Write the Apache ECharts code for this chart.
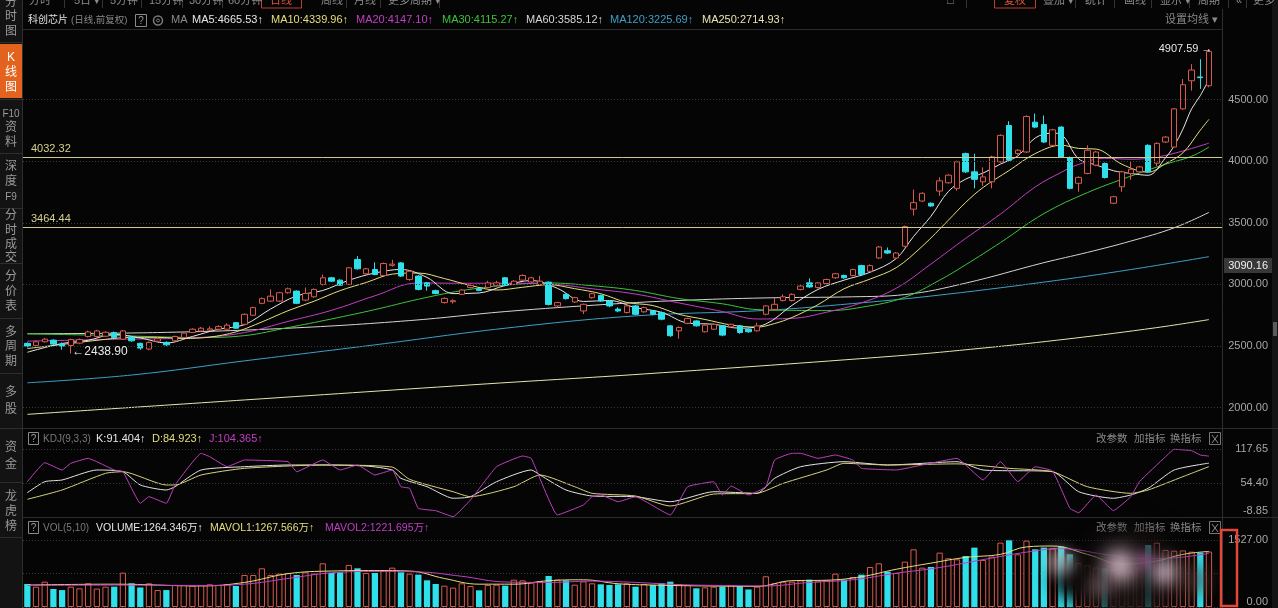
<!DOCTYPE html>
<html><head><meta charset="utf-8">
<script src="https://cdn.jsdelivr.net/npm/echarts@6/dist/echarts.min.js"></script>
<style>html,body{margin:0;padding:0;background:#050505;overflow:hidden}#c{width:1278px;height:608px}</style>
</head><body><div id="c"></div>
<script>
// ---------- DATA ----------
const openP = [2522,2505,2535,2548,2516,2505,2524,2578,2578,2580,
2610,2556,2572,2522,2476,2540,2530,2543,2570,2610,
2623,2630,2637,2637,2690,2677,2750,2847,2865,2865,
2933,2946,2873,2900,3000,3054,3035,3000,3202,3087,
3121,3073,3155,3175,3040,3068,3013,2950,2853,2860,
2920,2975,2965,2975,2990,3054,3000,3035,3020,3000,
3019,2826,2920,2858,2785,2893,2911,2866,2800,2772,
2826,2778,2785,2772,2664,2624,2685,2704,2616,2637,
2664,2656,2664,2637,2624,2758,2798,2870,2870,2960,
3013,2975,3008,3054,3073,3073,3153,3107,3215,3274,
3215,3310,3611,3677,3659,3758,3825,3780,4062,3914,
3833,3833,3995,4290,4062,4075,4317,4298,4129,4277,
4030,3821,3901,3968,3981,3659,3793,3900,3914,4129,
3984,4156,4115,4425,4653,4684,4613];
const closeP = [2500,2535,2556,2516,2500,2553,2553,2615,2623,2612,
2570,2623,2543,2484,2530,2560,2510,2578,2605,2637,
2645,2640,2658,2670,2645,2758,2812,2885,2905,2933,
2965,2847,2927,2960,3054,3027,2994,3135,3127,3127,
3081,3170,3165,3068,3107,2960,2987,2927,2887,2868,
2955,2992,2952,3013,3013,2992,3027,3073,3054,3027,
2838,2853,2885,2893,2839,2925,2866,2826,2785,2826,
2758,2812,2758,2718,2584,2651,2723,2664,2670,2677,
2589,2677,2610,2616,2664,2826,2839,2900,2920,2987,
2980,3013,3040,3087,3054,3121,3081,3153,3304,3255,
3255,3470,3664,3740,3637,3841,3887,3995,3914,3853,
3873,4035,4210,4008,4089,4363,4277,4156,4255,4035,
3780,3869,4089,4075,3868,3712,3914,3935,3954,3914,
4145,4196,4425,4621,4740,4678,4890];
const lowP = [2490,2498,2528,2508,2470,2438.9,2515,2570,2572,2575,
2562,2550,2535,2470,2465,2532,2500,2538,2565,2605,
2618,2622,2630,2630,2640,2670,2745,2840,2858,2858,
2925,2840,2865,2893,2992,3020,2988,2995,3120,3080,
3075,3068,3145,3060,3030,2952,2950,2920,2845,2845,
2915,2968,2945,2970,2985,2985,2995,3030,3012,2995,
2830,2815,2878,2850,2760,2885,2860,2815,2775,2765,
2750,2770,2750,2710,2575,2560,2678,2658,2610,2630,
2580,2650,2600,2608,2618,2750,2790,2862,2862,2952,
2972,2968,3000,3046,3046,3066,3073,3100,3208,3248,
3208,3302,3560,3670,3630,3720,3818,3760,3905,3780,
3800,3780,3988,4000,4050,4068,4268,4148,4122,4028,
3772,3752,3894,3960,3860,3652,3752,3850,3906,3906,
3960,4148,4108,4418,4573,4587,4600];
const highP = [2530,2545,2565,2555,2530,2560,2562,2625,2632,2620,
2618,2630,2580,2528,2538,2575,2538,2585,2612,2645,
2655,2660,2670,2685,2695,2765,2820,2895,2960,2940,
2975,2952,2975,2968,3080,3062,3042,3142,3230,3135,
3180,3178,3200,3182,3115,3075,3020,2958,2895,2880,
2962,3010,2972,3030,3030,3060,3035,3082,3062,3070,
3025,2860,2928,2900,2845,2932,2918,2872,2815,2835,
2832,2820,2792,2780,2670,2660,2730,2710,2678,2685,
2670,2682,2672,2642,2690,2832,2890,2920,2928,2995,
3050,3020,3048,3094,3080,3128,3160,3162,3312,3300,
3262,3478,3770,3748,3666,3870,3895,4005,4070,4060,
3950,4045,4218,4325,4098,4372,4387,4371,4263,4285,
4038,3878,4129,4085,3990,3720,3922,4000,3962,4137,
4153,4204,4432,4667,4788,4828,4907.59];
const volume = [524,463,577,410,386,463,426,540,420,463,
463,782,540,445,540,386,386,502,502,486,
502,517,502,524,478,730,730,882,730,760,
775,730,790,760,996,775,790,958,882,775,
775,836,897,790,760,737,608,524,486,441,
540,478,380,502,509,486,623,608,555,593,
707,623,608,509,585,540,517,502,517,540,
463,524,502,540,577,524,502,426,448,463,
463,502,478,400,463,700,540,577,577,608,
623,585,608,760,623,684,737,912,996,805,
775,1034,1315,897,912,1239,1110,1087,1163,1353,
1072,1148,1467,1520,1201,1513,1315,1353,1338,1376,
1200,1000,950,900,880,850,820,800,900,1413,
1466,1300,1283,1290,1260,1241,1264];
// moving-average lines: [candle index, value]
const ma5Pts = [[0,2450],[4,2521],[7,2547],[10,2595],[13,2566],[16,2525],[19,2578],[22,2637],[25,2674],[28,2801],[31,2907],[34,2951],[37,3034],[40,3093],[43,3122],[46,3057],[49,2926],[52,2931],[55,2992],[58,3032],[61,2969],[64,2862],[67,2870],[70,2812],[73,2774],[76,2687],[79,2677],[82,2645],[85,2679],[88,2830],[91,2960],[94,3035],[97,3099],[100,3210],[102,3390],[104,3553],[106,3754],[108,3855],[110,3904],[112,3977],[114,4043],[116,4189],[118,4228],[119,4217],[121,4019],[123,3970],[125,3923],[127,3901],[129,3886],[131,4028],[132,4126],[133,4260],[134,4425],[135,4532],[136,4665.53]];
const ma10Pts = [[0,2480],[3,2505],[6,2530],[9,2555],[12,2571],[15,2571],[18,2562],[21,2573],[24,2615],[27,2696],[30,2787],[33,2864],[36,2950],[39,3016],[42,3084],[45,3093],[48,3048],[51,2992],[54,2955],[57,2977],[60,2998],[63,2966],[66,2925],[69,2854],[72,2829],[75,2758],[78,2716],[81,2671],[84,2654],[86,2683],[88,2732],[91,2836],[94,2965],[97,3044],[100,3136],[103,3310],[106,3521],[108,3666],[110,3787],[113,3925],[116,4062],[119,4130],[121,4104],[123,4099],[126,3975],[129,3911],[131,3980],[133,4068],[135,4252],[136,4339.96]];
const ma20Pts = [[0,2540],[10,2555],[20,2570],[25,2610],[30,2700],[35,2790],[40,2908],[45,3012],[50,3010],[55,3010],[60,3004],[65,2965],[70,2922],[75,2850],[80,2780],[84,2720],[88,2725],[92,2775],[96,2851],[100,2969],[104,3166],[108,3374],[112,3571],[116,3791],[119,3910],[121,3974],[124,4024],[127,4016],[130,4034],[133,4083],[136,4147.10]];
const ma30Pts = [[0,2600],[10,2585],[20,2570],[25,2585],[30,2650],[35,2720],[40,2796],[45,2880],[50,2950],[55,2994],[60,3012],[65,2990],[70,2951],[75,2886],[80,2843],[84,2796],[88,2790],[92,2788],[96,2815],[101,2896],[105,3035],[108,3160],[112,3340],[117,3575],[122,3745],[127,3879],[131,3976],[134,4040],[136,4115.27]];
const ma60Pts = [[0,2600],[15,2610],[30,2645],[44,2707],[55,2780],[67,2840],[75,2870],[85,2891],[95,2900],[101,2918],[108,3011],[117,3177],[122,3260],[127,3352],[132,3460],[136,3585.12]];
const ma120Pts = [[0,2202],[12,2265],[25,2380],[40,2510],[55,2645],[70,2745],[85,2790],[95,2845],[104,2906],[117,3019],[127,3121],[136,3225.69]];
const ma250Pts = [[0,1946],[25,2063],[53,2194],[71,2274],[100,2420],[110,2484],[120,2560],[130,2650],[136,2714.93]];
const kPts = [[0,36.4],[2,56.8],[4,60],[8,78.6],[11,75.4],[13,50.7],[16,41.4],[17,47.5],[20,78.6],[25,84.7],[30,87.9],[34,87.9],[39,86],[42,78.6],[43,63.1],[46,47.5],[49,26],[51,28.9],[54,56.8],[58,78.6],[59,69.3],[62,41.4],[65,30.2],[70,28.9],[74,19.6],[79,38.2],[84,35.2],[86,63.1],[89,84.7],[94,94],[99,87.9],[107,94],[110,78.6],[118,75.4],[121,38.2],[125,26],[127,32.1],[129,44.5],[132,78.6],[136,91.404]];
const dPts = [[0,24.1],[4,41.4],[9,72.4],[11,75.4],[16,50.7],[17,50.7],[20,69.3],[25,81.7],[34,87.9],[42,84],[44,61.2],[49,38.2],[51,28.9],[56,47.5],[59,69.3],[63,47.5],[65,35.2],[70,30.2],[74,11.6],[79,33.9],[84,35.2],[87,53.8],[92,78.6],[94,91],[99,87.9],[107,90],[113,81.7],[118,75.4],[122,47.5],[127,35.2],[129,41.4],[133,66.2],[136,84.923]];
const jPts = [[0,56.8],[2,92.2],[4,78.6],[5,91],[7,100.3],[8,94],[10,78.6],[11,75.4],[13,16.6],[14,28.9],[16,16.6],[17,50.7],[20,109.6],[21,103.3],[23,84.7],[25,97.2],[30,94],[31,75.4],[34,97.2],[36,78.6],[38,87.9],[40,69.3],[42,78.6],[43,47.5],[44,44.5],[45,7.3],[47,2.9],[49,-8.3],[51,22.8],[54,84.7],[57,104.6],[58,100.3],[61,-5.1],[64,13.5],[65,28.9],[66,32.1],[68,19.6],[70,28.9],[74,-5.1],[76,47.5],[79,56.8],[80,32.1],[81,48.8],[83,32.1],[85,47.5],[86,97.2],[88,109.6],[89,109.6],[91,100.3],[93,106.5],[95,97.2],[96,81.7],[100,78.6],[103,87.9],[107,100.3],[110,60],[112,94],[114,56.8],[116,84.7],[118,76.7],[120,7.3],[121,-0.9],[123,32.1],[125,2.9],[127,28.9],[128,56.8],[131,103.3],[132,117.1],[134,114.5],[135,106.5],[136,104.365]];
const mavol1Pts = [[0,500],[10,520],[20,480],[25,560],[30,760],[35,820],[40,830],[44,820],[48,650],[52,520],[56,520],[60,600],[64,620],[68,530],[72,500],[78,480],[84,470],[88,600],[92,610],[96,690],[100,860],[104,1000],[108,1130],[112,1200],[115,1370],[118,1390],[122,1200],[126,980],[130,1050],[133,1200],[136,1267.566]];
const mavol2Pts = [[0,490],[10,500],[20,490],[25,520],[30,650],[35,780],[40,810],[45,800],[50,700],[55,570],[60,560],[65,590],[70,560],[75,510],[80,490],[85,480],[90,560],[95,620],[100,770],[105,900],[110,1080],[115,1250],[119,1330],[124,1200],[128,1100],[132,1120],[136,1221.695]];
const priceTicks = [2000,2500,3000,3500,4000,4500];
const drawnLevels = [4032.32, 3464.44];
const kdjTicks = [117.65, 54.40, -8.85];
const periodHigh = {idx:136, value:4907.59};
const periodLow = {idx:5, value:2438.90};
const lastPriceTag = '3090.16';

// ---------- CHART ----------
const FONT = '"Liberation Sans","Noto Sans CJK SC",sans-serif';
const UP = '#d65a4d', DOWN = '#2fe0ea', BG = '#050505';
const N = closeP.length;
const cats = Array.from({length: N + 1}, (_, i) => 'd' + i);
const candleData = openP.map((o, i) => [o, closeP[i], lowP[i], highP[i]]);
const volData = volume.map((v, i) => ({value: v, itemStyle: closeP[i] >= openP[i]
  ? {color: BG, borderColor: UP, borderWidth: 1} : {color: DOWN}}));

function T(x, y, text, fill, size, align, extra) {
  return Object.assign({type: 'text', x: x, y: y, silent: true, z: 100,
    style: {text: text, fill: fill, font: (size || 11) + 'px ' + FONT, textAlign: align || 'left', textVerticalAlign: 'middle'}}, extra || {});
}
function L(x1, y1, x2, y2, stroke, w) {
  return {type: 'line', silent: true, z: 99, shape: {x1, y1, x2, y2}, style: {stroke: stroke, lineWidth: w || 1}};
}
function R(x, y, w, h, fill, stroke, lw) {
  return {type: 'rect', silent: true, z: 98, shape: {x, y, width: w, height: h}, style: {fill: fill || 'none', stroke: stroke || 'none', lineWidth: lw || 1}};
}
// soft blurred blob (used for the smudged watermark over the volume pane)
function blob(cx, cy, r, color, blur) {
  return {type: 'circle', silent: true, z: 110, shape: {cx: cx - 3000, cy: cy, r: r},
    style: {fill: '#000', shadowColor: color, shadowBlur: blur, shadowOffsetX: 3000, shadowOffsetY: 0}};
}

const G = [];
// sidebar
G.push(R(0, 0, 22, 608, '#131313'));
G.push(L(22.5, 0, 22.5, 608, '#2e2e2e'));
G.push(R(0, 44, 22, 54, '#e3621d'));
[42, 99, 153, 208, 263, 318, 373, 428, 482, 537].forEach(y => G.push(L(0, y + 0.5, 22, y + 0.5, '#2e2e2e')));
const side = [['分',3],['时',17],['图',32],['K',58],['线',73],['图',88],['F10',114],['资',128],['料',143],['深',167],['度',182],['F9',197],
  ['分',216],['时',231],['成',245],['交',258],['分',277],['价',292],['表',307],['多',333],['周',347],['期',362],['多',393],['股',410],
  ['资',448],['金',465],['龙',497],['虎',512],['榜',527]];
side.forEach(s => G.push(T(11, s[1], s[0], (s[1] > 50 && s[1] < 95) ? '#ffffff' : '#9a9a9a', s[0].length > 1 ? 10 : 12, 'center')));
// top tabs (cut by the top edge)
const tabs = [['分时',29],['5日 ▾',74],['5分钟',110],['15分钟',149],['30分钟',189],['60分钟',228],['周线',321],['月线',354],['更多周期 ▾',388]];
tabs.forEach(t => G.push(T(t[1], 1, t[0], '#8c8c8c', 11)));
[64,102,141,182,222,346,380,439].forEach(x => G.push(L(x + 0.5, 0, x + 0.5, 8, '#333')));
G.push(R(261.5, -6, 40, 14, 'none', '#b8402c'));
G.push(T(281, 1, '日线', '#e0563c', 11, 'center'));
const rtabs = [['□',947],['叠加 ▾',1043],['统计',1085],['画线',1124],['显示 ▾',1160],['周期',1198],['«',1236],['更多',1253]];
rtabs.forEach(t => G.push(T(t[1], 1, t[0], '#8c8c8c', 11)));
[966,1075,1114,1151,1189,1228,1246].forEach(x => G.push(L(x + 0.5, 0, x + 0.5, 8, '#333')));
G.push(R(994.5, -6, 41, 14, 'none', '#b8402c'));
G.push(T(1015, 1, '复权', '#e0563c', 11, 'center'));
// header of price pane
G.push(T(28, 20, '科创芯片', '#e2e2e2', 10));
G.push(T(71, 20, '(日线,前复权)', '#8a8a8a', 9.5));
G.push(R(135.5, 14.5, 11, 12, 'none', '#8a8a8a'));
G.push(T(141, 21, '?', '#9a9a9a', 10, 'center'));
G.push({type: 'circle', silent: true, z: 99, shape: {cx: 158, cy: 20.5, r: 4.5}, style: {fill: 'none', stroke: '#7a7a7a', lineWidth: 1.5}});
G.push({type: 'circle', silent: true, z: 99, shape: {cx: 158, cy: 20.5, r: 1.5}, style: {fill: 'none', stroke: '#7a7a7a', lineWidth: 1}});
G.push(T(171, 20, 'MA', '#8a8a8a', 11));
const maLeg = [['MA5:4665.53↑',192,'#e6e6e6'],['MA10:4339.96↑',271,'#e6df7c'],['MA20:4147.10↑',356,'#c23ec4'],['MA30:4115.27↑',442,'#3cc43c'],
  ['MA60:3585.12↑',526,'#d6d6d6'],['MA120:3225.69↑',610,'#3f9fc6'],['MA250:2714.93↑',702,'#e8e3b0']];
maLeg.forEach(m => G.push(T(m[1], 20, m[0], m[2], 11)));
G.push(T(1165, 20, '设置均线 ▾', '#8a8a8a', 11));
G.push(L(22, 29.5, 1222, 29.5, '#2a2a2a'));
// pane separators
G.push(L(22, 428.5, 1278, 428.5, '#2c2c2c'));
G.push(L(22, 517.5, 1278, 517.5, '#2c2c2c'));
G.push(L(1222.5, 9, 1222.5, 608, '#2e2e2e'));
function subHead(y, items) {
  G.push(R(28.5, y - 6.5, 10, 12, 'none', '#8a8a8a'));
  G.push(T(33.5, y, '?', '#9a9a9a', 10, 'center'));
  items.forEach(it => G.push(T(it[1], y, it[0], it[2], it[3] || 11)));
  G.push(T(1096, y, '改参数', '#8a8a8a', 10.5));
  G.push(T(1134, y, '加指标', '#8a8a8a', 10.5));
  G.push(T(1170, y, '换指标', '#8a8a8a', 10.5));
  G.push(R(1209.5, y - 6.5, 11, 12, 'none', '#777'));
  G.push(L(1212, y - 4, 1218, y + 4, '#8a8a8a'));
  G.push(L(1218, y - 4, 1212, y + 4, '#8a8a8a'));
}
subHead(439, [['KDJ(9,3,3)',43,'#7a7a7a',10],['K:91.404↑',96,'#e6e6e6'],['D:84.923↑',152,'#e6df7c'],['J:104.365↑',209,'#c23ec4']]);
subHead(528, [['VOL(5,10)',43,'#7a7a7a',10],['VOLUME:1264.346万↑',96,'#e6e6e6',10.5],['MAVOL1:1267.566万↑',210,'#e6df7c',10.5],['MAVOL2:1221.695万↑',325,'#c23ec4',10.5]]);
// price tag on right axis
G.push(R(1224, 258, 48, 15, '#383838'));
G.push(T(1268, 265.5, lastPriceTag, '#f0f0f0', 11, 'right'));
// scroll strip on the far right
G.push(R(1272, 0, 6, 608, '#141414'));
G.push(R(1273, 322, 4, 14, '#5a5a5a'));
// smudged watermark over the right part of the volume pane
G.push(blob(1130, 578, 48, 'rgba(25,20,20,0.9)', 26));
G.push(blob(1075, 578, 22, 'rgba(15,12,12,1)', 16));
G.push(blob(1060, 562, 14, 'rgba(220,210,215,0.55)', 14));
G.push(blob(1120, 566, 16, 'rgba(235,205,220,0.85)', 18));
G.push(blob(1165, 572, 13, 'rgba(240,215,232,0.75)', 16));
G.push(blob(1100, 586, 12, 'rgba(110,90,95,0.7)', 14));
G.push(blob(1145, 560, 8, 'rgba(200,110,190,0.6)', 12));
G.push(blob(1195, 580, 14, 'rgba(80,60,60,0.7)', 18));
// red annotation frame over volume axis
G.push(Object.assign(R(1221, 530, 16, 76, 'none', '#e2473c', 2.5), {z: 120}));

const dotted = {color: '#3a3a3a', type: [1, 2], width: 1};
function maLine(name, pts, color, xi, yi, smooth) {
  return {type: 'line', name: name, xAxisIndex: xi, yAxisIndex: yi, data: pts, showSymbol: false, symbol: 'none',
    smooth: smooth, clip: false, silent: true, lineStyle: {color: color, width: 1}, z: 3};
}
const axisBase = {axisLine: {show: false}, axisTick: {show: false}, splitLine: {show: false}};

const option = {
  backgroundColor: BG,
  animation: false,
  grid: [
    {left: 23, right: 56, top: 38, height: 369.7},
    {left: 23, right: 56, top: 449, height: 68},
    {left: 23, right: 56, top: 540, height: 67}
  ],
  xAxis: [0, 1, 2].map(g => ({type: 'category', gridIndex: g, data: cats, boundaryGap: true, show: false})),
  yAxis: [
    Object.assign({type: 'value', gridIndex: 0, position: 'right', min: 2000, max: 5000, interval: 500,
      axisLabel: {color: '#a6a6a6', fontSize: 11, fontFamily: FONT, align: 'right', margin: 46, showMaxLabel: false,
        formatter: v => v.toFixed(2)}}, axisBase),
    Object.assign({type: 'value', gridIndex: 1, position: 'right', min: -8.85, max: 117.65, axisLabel: {show: false}}, axisBase),
    Object.assign({type: 'value', gridIndex: 2, position: 'right', min: 0, max: 1527, interval: 763.5,
      splitLine: {show: true, lineStyle: dotted},
      axisLabel: {color: '#a6a6a6', fontSize: 11, fontFamily: FONT, align: 'right', margin: 46,
        formatter: v => v === 0 ? '{b|0.00}' : (v === 1527 ? '1527.00' : ''),
        rich: {b: {color: '#a6a6a6', fontSize: 11, fontFamily: FONT, padding: [0, 0, 10, 0]}}}},
      {axisLine: {show: false}, axisTick: {show: false}})
  ],
  series: [
    maLine('MA250', ma250Pts, '#e8e3b0', 0, 0, 0.4),
    maLine('MA120', ma120Pts, '#3f9fc6', 0, 0, 0.4),
    maLine('MA60', ma60Pts, '#d8d2d2', 0, 0, 0.4),
    maLine('MA30', ma30Pts, '#3cc43c', 0, 0, 0.4),
    maLine('MA20', ma20Pts, '#c23ec4', 0, 0, 0.4),
    maLine('MA10', ma10Pts, '#e6df7c', 0, 0, 0.35),
    maLine('MA5', ma5Pts, '#e6e6e6', 0, 0, 0.35),
    {
      type: 'candlestick', name: 'K', xAxisIndex: 0, yAxisIndex: 0, data: candleData, barWidth: '68%', z: 4,
      itemStyle: {color: BG, color0: DOWN, borderColor: UP, borderColor0: DOWN, borderWidth: 1},
      markLine: {
        silent: true, symbol: ['none', 'none'], animation: false, label: {show: false},
        data: priceTicks.map(v => ({yAxis: v, lineStyle: dotted, label: {show: false}})).concat(
          drawnLevels.map(v => ({yAxis: v, lineStyle: {color: '#cfc98c', width: 1, type: 'solid'},
            label: {show: true, position: 'insideStartTop', formatter: v.toFixed(2), color: '#d8d28e', fontSize: 11, fontFamily: FONT, distance: [8, 3]}})))
      },
      markPoint: {
        silent: true, symbol: 'circle', symbolSize: 1, itemStyle: {color: 'rgba(0,0,0,0)'},
        data: [
          {coord: [cats[periodHigh.idx], periodHigh.value], label: {show: true, position: 'left', distance: 0, offset: [4, 0], formatter: periodHigh.value.toFixed(2) + ' →', color: '#e8e8e8', fontSize: 11, fontFamily: FONT}},
          {coord: [cats[periodLow.idx], periodLow.value], label: {show: true, position: 'right', distance: 1, offset: [0, -2], formatter: '←' + periodLow.value.toFixed(2), color: '#e8e8e8', fontSize: 12, fontFamily: FONT}}
        ]
      }
    },
    Object.assign(maLine('K', kPts, '#e4e4e4', 1, 1, 0.2), {
      markLine: {silent: true, symbol: ['none', 'none'], animation: false, lineStyle: dotted,
        data: kdjTicks.map(v => ({yAxis: v, label: {show: true, position: 'end', distance: 46, align: 'right',
          offset: v < 0 ? [0, -6] : [0, 0], formatter: v.toFixed(2), color: '#a6a6a6', fontSize: 11, fontFamily: FONT}}))}
    }),
    maLine('D', dPts, '#d8d27a', 1, 1, 0.2),
    maLine('J', jPts, '#bf3fc0', 1, 1, 0.1),
    {type: 'bar', name: 'VOL', xAxisIndex: 2, yAxisIndex: 2, data: volData, barWidth: '72%', silent: true, z: 2},
    maLine('MAVOL1', mavol1Pts, '#e6df7c', 2, 2, 0.4),
    maLine('MAVOL2', mavol2Pts, '#c23ec4', 2, 2, 0.4)
  ],
  graphic: {elements: G}
};
const chart = echarts.init(document.getElementById('c'));
chart.setOption(option);
</script>
</body></html>
